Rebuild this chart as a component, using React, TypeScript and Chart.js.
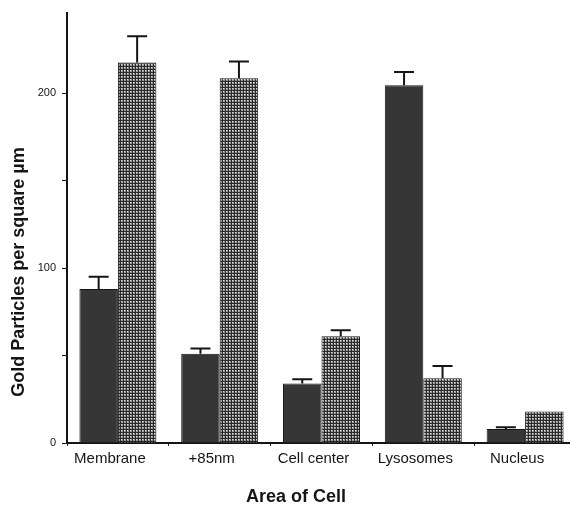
import React, { useEffect, useRef } from "react";
import { Chart, registerables } from "chart.js";

Chart.register(...registerables);

const categories = ["Membrane", "+85nm", "Cell center", "Lysosomes", "Nucleus"];
const darkValues = [88, 51, 34, 204.5, 8];
const darkErrors = [7, 3, 2.5, 7.5, 1];
const hatchValues = [217.5, 208.5, 61, 37, 18];
const hatchErrors = [15, 9.5, 3.5, 7, 0];
const yTickLabels = [0, 100, 200];
const yAxisTitle = "Gold Particles per square µm";
const xAxisTitle = "Area of Cell";

const FONT = "'Liberation Sans', Arial, Helvetica, sans-serif";

function makePattern(): CanvasPattern | string {
  const c = document.createElement("canvas");
  c.width = 3;
  c.height = 3;
  const ctx = c.getContext("2d");
  if (!ctx) return "#646464";
  ctx.fillStyle = "#2a2a2a";
  ctx.fillRect(0, 0, 3, 3);
  ctx.fillStyle = "#9a9a9a";
  ctx.fillRect(1, 1, 2, 2);
  ctx.fillStyle = "#e2e2e2";
  ctx.fillRect(1, 1, 1, 1);
  const p = ctx.createPattern(c, "repeat");
  return p || "#646464";
}

const errorBarPlugin = {
  id: "errorBars",
  afterDatasetsDraw(chart: any) {
    const ctx = chart.ctx;
    const yScale = chart.scales.y;
    const errs = [darkErrors, hatchErrors];
    chart.data.datasets.forEach((ds: any, i: number) => {
      const meta = chart.getDatasetMeta(i);
      meta.data.forEach((bar: any, j: number) => {
        const e = errs[i][j];
        if (!e) return;
        const v = ds.data[j];
        const yTop = yScale.getPixelForValue(v + e);
        const yBar = yScale.getPixelForValue(v);
        ctx.save();
        ctx.strokeStyle = "#151515";
        ctx.lineWidth = 2;
        ctx.beginPath();
        ctx.moveTo(bar.x, yBar);
        ctx.lineTo(bar.x, yTop);
        ctx.moveTo(bar.x - 10, yTop);
        ctx.lineTo(bar.x + 10, yTop);
        ctx.stroke();
        ctx.restore();
      });
    });
  },
};

const titlesPlugin = {
  id: "customTitles",
  afterDraw(chart: any) {
    const ctx = chart.ctx;
    ctx.save();
    ctx.fillStyle = "#151515";
    ctx.font = `bold 18px ${FONT}`;
    ctx.textAlign = "center";
    ctx.textBaseline = "middle";
    ctx.translate(19, 272);
    ctx.rotate(-Math.PI / 2);
    ctx.fillText(yAxisTitle, 0, 0);
    ctx.restore();

    ctx.save();
    ctx.fillStyle = "#151515";
    ctx.font = `bold 18px ${FONT}`;
    ctx.textAlign = "center";
    ctx.textBaseline = "middle";
    ctx.fillText(xAxisTitle, 296, 497);
    ctx.restore();
  },
};

export default function App() {
  const ref = useRef<HTMLCanvasElement | null>(null);

  useEffect(() => {
    if (!ref.current) return;
    const pattern = makePattern();
    const chart = new Chart(ref.current, {
      type: "bar",
      data: {
        labels: categories,
        datasets: [
          {
            label: "A",
            data: darkValues,
            backgroundColor: "#363636",
            borderColor: "#151515",
            borderWidth: 1,
            categoryPercentage: 0.756,
            barPercentage: 1,
          },
          {
            label: "B",
            data: hatchValues,
            backgroundColor: pattern as any,
            borderColor: "#151515",
            borderWidth: 1,
            categoryPercentage: 0.756,
            barPercentage: 1,
          },
        ],
      },
      options: {
        responsive: false,
        animation: false,
        devicePixelRatio: 1,
        layout: { padding: { top: 10, left: 0, right: 0, bottom: 0 } },
        plugins: {
          legend: { display: false },
          tooltip: { enabled: false },
        },
        scales: {
          x: {
            grid: {
              display: true,
              drawOnChartArea: false,
              drawTicks: true,
              tickLength: 3,
              color: "#222",
              offset: true,
            },
            border: { display: true, color: "#151515", width: 2 },
            ticks: {
              color: "#151515",
              font: { family: FONT, size: 15 },
              padding: 4,
              labelOffset: -8,
              maxRotation: 0,
              autoSkip: false,
            },
            afterFit: (s: any) => {
              s.height = 69;
            },
          },
          y: {
            min: 0,
            max: 246,
            grid: {
              display: true,
              drawOnChartArea: false,
              drawTicks: true,
              tickLength: 5,
              color: "#151515",
            },
            border: { display: true, color: "#151515", width: 2 },
            ticks: {
              stepSize: 50,
              includeBounds: false,
              color: "#151515",
              padding: 6,
              font: { family: FONT, size: 11 },
              callback: (v: any) => (yTickLabels.includes(Number(v)) ? String(v) : ""),
            },
            afterFit: (s: any) => {
              s.width = 67;
            },
          },
        },
      },
      plugins: [errorBarPlugin, titlesPlugin],
    });
    return () => chart.destroy();
  }, []);

  return (
    <div style={{ position: "fixed", left: 0, top: 0, width: 570, height: 512, overflow: "hidden", background: "#fff" }}>
      <canvas ref={ref} width={576} height={512} style={{ display: "block" }} />
    </div>
  );
}
